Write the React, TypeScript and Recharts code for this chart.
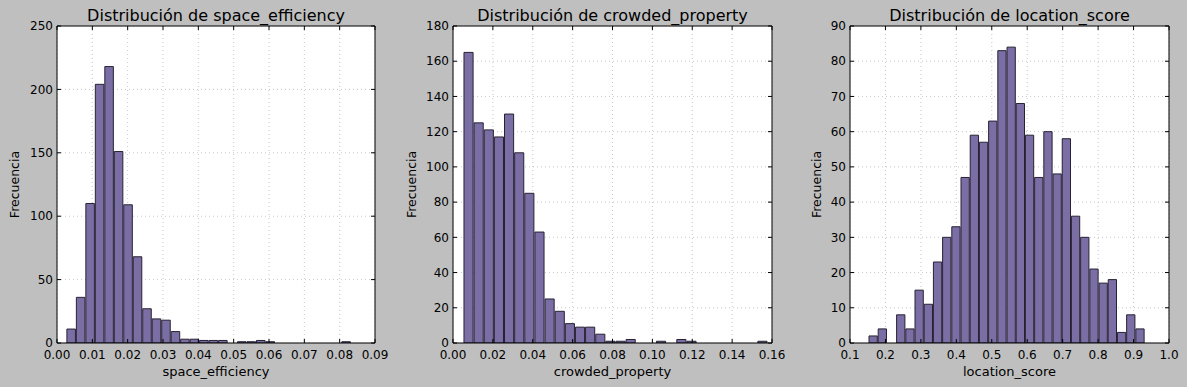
import { ComposedChart, Bar, XAxis, YAxis, CartesianGrid } from 'recharts'

// histogram counts (30 bins each) and the range the bins cover
const spaceCounts = [11, 36, 110, 204, 218, 151, 109, 68, 27, 19, 18, 9, 3, 3, 2, 2, 2, 0, 1, 1, 2, 1, 0, 0, 0, 0, 0, 0, 0, 1]
const spaceRange = [0.0028, 0.0833]
const spaceXTicks = [0, 0.01, 0.02, 0.03, 0.04, 0.05, 0.06, 0.07, 0.08, 0.09]
const spaceYTicks = [0, 50, 100, 150, 200, 250]

const crowdedCounts = [165, 125, 121, 117, 130, 108, 85, 63, 25, 18, 11, 9, 9, 5, 1, 1, 2, 0, 0, 1, 0, 2, 1, 0, 0, 0, 0, 0, 0, 1]
const crowdedRange = [0.005, 0.1575]
const crowdedXTicks = [0, 0.02, 0.04, 0.06, 0.08, 0.1, 0.12, 0.14, 0.16]
const crowdedYTicks = [0, 20, 40, 60, 80, 100, 120, 140, 160, 180]

const locationCounts = [2, 4, 0, 8, 4, 15, 11, 23, 30, 33, 47, 59, 57, 63, 83, 84, 68, 59, 47, 60, 48, 58, 36, 30, 21, 17, 18, 3, 8, 4]
const locationRange = [0.1536, 0.9324]
const locationXTicks = [0.1, 0.2, 0.3, 0.4, 0.5, 0.6, 0.7, 0.8, 0.9, 1.0]
const locationYTicks = [0, 10, 20, 30, 40, 50, 60, 70, 80, 90]

const FONT = '"DejaVu Sans", sans-serif'
const CHART_H = 387
const TOP = 26
const BOTTOM = 343

type HistProps = {
  title: string
  xLabel: string
  counts: number[]
  range: number[]
  xTicks: number[]
  yTicks: number[]
  digits: number
  left: number
  width: number
  plotLeft: number
  plotRight: number
  yLabelX: number
}

function Histogram(p: HistProps) {
  const binW = (p.range[1] - p.range[0]) / p.counts.length
  const data = p.counts.map((c, i) => ({ x: p.range[0] + (i + 0.5) * binW, count: c }))
  const xDomain = [p.xTicks[0], p.xTicks[p.xTicks.length - 1]]
  const yDomain = [p.yTicks[0], p.yTicks[p.yTicks.length - 1]]
  const plotW = p.plotRight - p.plotLeft
  const barSize = (plotW * binW) / (xDomain[1] - xDomain[0])
  const tickStyle = { fontSize: 12, fill: '#000', fontFamily: FONT }
  const blank = () => ''

  return (
    <div style={{ position: 'absolute', left: p.left, top: 0, width: p.width, height: CHART_H, fontFamily: FONT }}>
      <div
        style={{
          position: 'absolute',
          left: p.plotLeft - 20,
          width: plotW + 40,
          top: 7.5,
          textAlign: 'center',
          fontSize: 16,
          lineHeight: '16px',
          whiteSpace: 'nowrap',
          color: '#000',
        }}
      >
        {p.title}
      </div>
      <ComposedChart
        width={p.width}
        height={CHART_H}
        data={data}
        margin={{ top: TOP - 1, right: p.width - p.plotRight - 1, bottom: CHART_H - BOTTOM - 30, left: 0 }}
        style={{ fontFamily: FONT }}
      >
        <CartesianGrid fill="#fff" stroke="#c8c8c8" strokeDasharray="1 3" />
        <XAxis
          dataKey="x"
          type="number"
          domain={xDomain}
          ticks={p.xTicks}
          allowDataOverflow
          height={30}
          tickSize={-4}
          tickMargin={11}
          tick={tickStyle}
          tickFormatter={(v: number) => v.toFixed(p.digits)}
          axisLine={{ stroke: '#000' }}
          tickLine={{ stroke: '#000' }}
          label={{ value: p.xLabel, position: 'insideBottom', offset: -2.5, fontSize: 13, fill: '#000', fontFamily: FONT }}
        />
        <XAxis
          xAxisId="top"
          dataKey="x"
          type="number"
          orientation="top"
          domain={xDomain}
          ticks={p.xTicks}
          allowDataOverflow
          height={1}
          tickSize={-4}
          tickFormatter={blank}
          axisLine={{ stroke: '#000' }}
          tickLine={{ stroke: '#000' }}
        />
        <YAxis
          type="number"
          domain={yDomain}
          ticks={p.yTicks}
          allowDataOverflow
          width={p.plotLeft}
          tickSize={-4}
          tickMargin={8}
          tick={tickStyle}
          axisLine={{ stroke: '#000' }}
          tickLine={{ stroke: '#000' }}
          label={{
            value: 'Frecuencia',
            angle: -90,
            position: 'insideLeft',
            offset: p.yLabelX,
            fontSize: 12.5,
            fill: '#000',
            fontFamily: FONT,
            style: { textAnchor: 'middle' },
          }}
        />
        <YAxis
          yAxisId="right"
          type="number"
          orientation="right"
          domain={yDomain}
          ticks={p.yTicks}
          allowDataOverflow
          width={1}
          tickSize={-4}
          tickFormatter={blank}
          axisLine={{ stroke: '#000' }}
          tickLine={{ stroke: '#000' }}
        />
        <Bar
          dataKey="count"
          fill="#7b6ea5"
          stroke="#272233"
          strokeWidth={1}
          barSize={barSize}
          isAnimationActive={false}
        />
        <Bar dataKey="count" xAxisId="top" yAxisId="right" fill="none" stroke="none" barSize={0} isAnimationActive={false} />
      </ComposedChart>
    </div>
  )
}

export default function App() {
  return (
    <div style={{ position: 'absolute', left: 0, top: 0, width: 1187, height: 387, background: '#bfbfbf' }}>
      <Histogram
        title="Distribución de space_efficiency"
        xLabel="space_efficiency"
        counts={spaceCounts}
        range={spaceRange}
        xTicks={spaceXTicks}
        yTicks={spaceYTicks}
        digits={2}
        left={0}
        width={390}
        plotLeft={57}
        plotRight={375}
        yLabelX={14.5}
      />
      <Histogram
        title="Distribución de crowded_property"
        xLabel="crowded_property"
        counts={crowdedCounts}
        range={crowdedRange}
        xTicks={crowdedXTicks}
        yTicks={crowdedYTicks}
        digits={2}
        left={395}
        width={390}
        plotLeft={58}
        plotRight={377}
        yLabelX={16.3}
      />
      <Histogram
        title="Distribución de location_score"
        xLabel="location_score"
        counts={locationCounts}
        range={locationRange}
        xTicks={locationXTicks}
        yTicks={locationYTicks}
        digits={1}
        left={795}
        width={392}
        plotLeft={55}
        plotRight={374}
        yLabelX={21.3}
      />
    </div>
  )
}
